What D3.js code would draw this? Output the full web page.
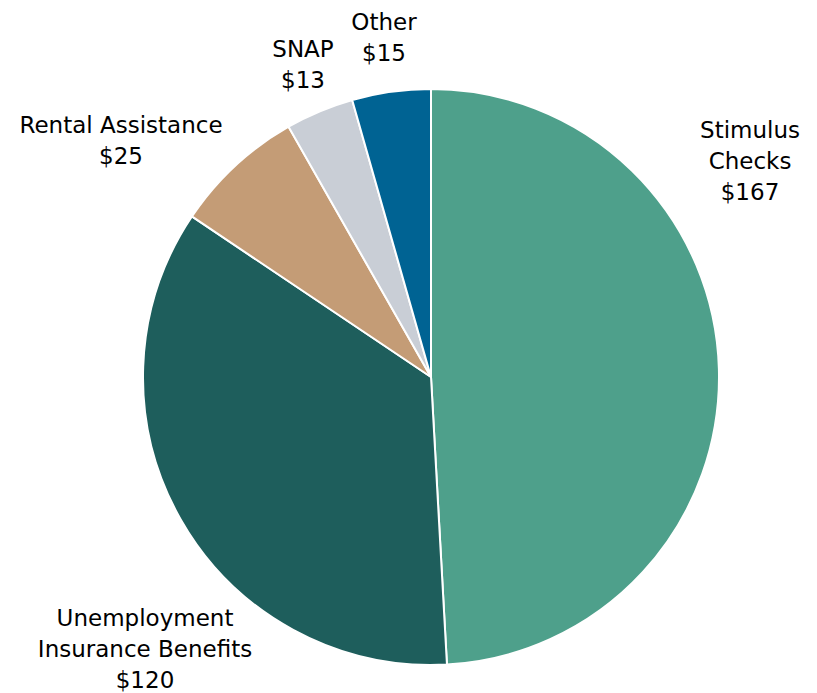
<!DOCTYPE html>
<html>
<head>
<meta charset="utf-8">
<script src="https://cdn.jsdelivr.net/npm/d3@7"></script>
<style>
  body { margin: 0; background: #fff; }
  text { font-family: "DejaVu Sans", sans-serif; font-size: 23px; fill: #000; }
</style>
</head>
<body>
<div id="chart"></div>
<script>
const categories = ['Stimulus Checks', 'Unemployment Insurance Benefits', 'Rental Assistance', 'SNAP', 'Other']
const values = [167, 120, 25, 13, 15]
const labelLines = [
  ['Stimulus', 'Checks', '$167'],
  ['Unemployment', 'Insurance Benefits', '$120'],
  ['Rental Assistance', '$25'],
  ['SNAP', '$13'],
  ['Other', '$15']
]
const colors = ['#4ea08b', '#1e5e5c', '#c49c76', '#c9ced6', '#006393']

const width = 817
const height = 693
const cx = 431
const cy = 377
const radius = 288

// label block centres (first line baseline), relative to pie centre
const labelOffsets = [
  [319, -239],
  [-286, 249],
  [-310, -244],
  [-128, -320],
  [-47, -347]
]
const lineHeight = 31

const svg = d3.select('#chart')
  .append('svg')
  .attr('width', width)
  .attr('height', height)

const data = categories.map((c, i) => ({ name: c, value: values[i], i }))

const pie = d3.pie().sort(null).value((d) => d.value)
const arc = d3.arc().innerRadius(0).outerRadius(radius)
const color = d3.scaleOrdinal().domain(categories).range(colors)

const chart = svg.append('g').attr('transform', `translate(${cx}, ${cy})`)

chart.selectAll('path')
  .data(pie(data))
  .join('path')
  .attr('d', arc)
  .attr('fill', (d) => color(d.data.name))
  .attr('stroke', '#fff')
  .attr('stroke-width', 2)

const labels = chart.selectAll('text.label')
  .data(data)
  .join('text')
  .attr('class', 'label')
  .attr('text-anchor', 'middle')
  .attr('transform', (d) => `translate(${labelOffsets[d.i][0]}, ${labelOffsets[d.i][1]})`)

labels.selectAll('tspan')
  .data((d) => labelLines[d.i])
  .join('tspan')
  .attr('x', 0)
  .attr('y', (d, j) => j * lineHeight)
  .text((d) => d)
</script>
</body>
</html>
